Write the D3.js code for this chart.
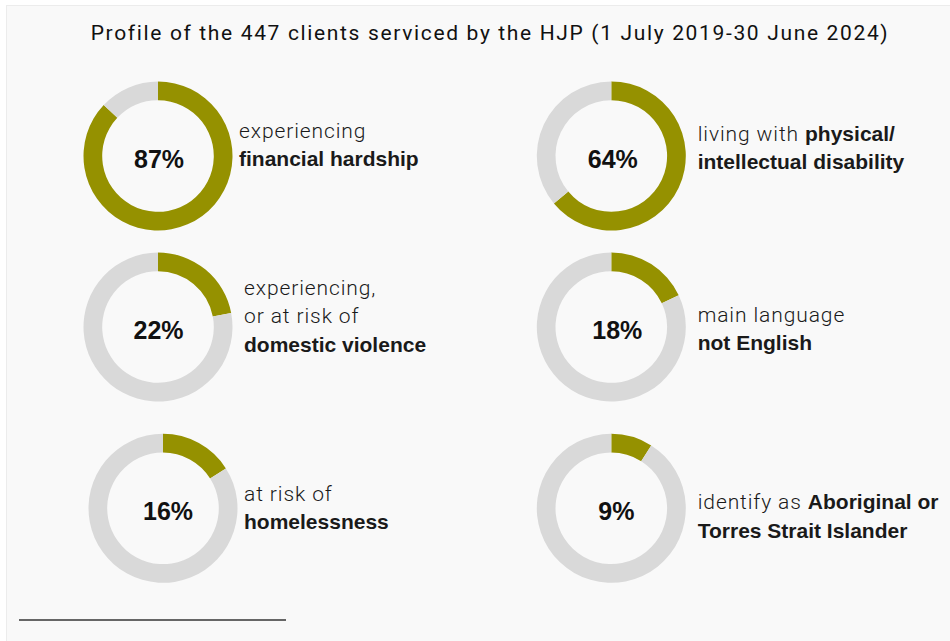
<!DOCTYPE html>
<html>
<head>
<meta charset="utf-8">
<script src="https://cdn.jsdelivr.net/npm/d3@7"></script>
<style>
  html, body { margin: 0; padding: 0; background: #ffffff; }
  svg { display: block; }
</style>
</head>
<body>
<svg id="chart" width="950" height="641"></svg>
<script>
// ---- data ----
const title = "Profile of the 447 clients serviced by the HJP (1 July 2019-30 June 2024)";
const categories = [
  "financial hardship",
  "domestic violence",
  "homelessness",
  "physical/intellectual disability",
  "main language not English",
  "Aboriginal or Torres Strait Islander"
];
const percents = [87, 22, 16, 64, 18, 9];
// each label: lines, each line a list of [text, isBold] runs
const labelLines = [
  [[["experiencing", false]], [["financial hardship", true]]],
  [[["experiencing,", false]], [["or at risk of", false]], [["domestic violence", true]]],
  [[["at risk of", false]], [["homelessness", true]]],
  [[["living with ", false], ["physical/", true]], [["intellectual disability", true]]],
  [[["main language", false]], [["not English", true]]],
  [[["identify as ", false], ["Aboriginal or", true]], [["Torres Strait Islander", true]]]
];

// ---- layout ----
const W = 950, H = 641;
const colX = [158, 611.3];
const rowY = [156, 327, 508.3];
// small per-donut adjustments: donut x nudge, value text dx, label x, first label baseline
const slots = [
  { nx: 0, tdx: 1,   lx: 81,   ly: -18 },
  { nx: 0, tdx: 0.5, lx: 86,   ly: -32 },
  { nx: 5, tdx: 5,   lx: 86,   ly: -7.6 },
  { nx: 0, tdx: 1.5, lx: 86.4, ly: -15.2 },
  { nx: 0, tdx: 6,   lx: 86.4, ly: -5.3 },
  { nx: 0, tdx: 5,   lx: 86.4, ly: 1 }
];
const lineH = 28.3;
const outerR = 74.5, innerR = 55.8;
const olive = "#959100", track = "#d9d9d9";

const svg = d3.select("#chart");

// panel
svg.append("rect")
  .attr("x", 6.5).attr("y", 5.5)
  .attr("width", W).attr("height", H)
  .attr("fill", "#f9f9f9")
  .attr("stroke", "#ececec");

// title
svg.append("text")
  .attr("x", 490).attr("y", 39.5)
  .attr("text-anchor", "middle")
  .style("font-family", "Roboto, 'Liberation Sans', sans-serif")
  .style("font-size", "21px")
  .style("letter-spacing", "1.65px")
  .style("font-weight", 400)
  .attr("fill", "#111")
  .text(title);

const pie = d3.pie().sort(null).value(d => d);
const arc = d3.arc().innerRadius(innerR).outerRadius(outerR);

const items = categories.map((c, i) => ({
  category: c,
  value: percents[i],
  lines: labelLines[i],
  col: i < 3 ? 0 : 1,
  row: i % 3,
  slot: slots[i]
}));

const g = svg.selectAll("g.donut")
  .data(items)
  .join("g")
  .attr("class", "donut")
  .attr("transform", d => `translate(${colX[d.col] + d.slot.nx},${rowY[d.row]})`);

g.selectAll("path")
  .data(d => pie([d.value, 100 - d.value]))
  .join("path")
  .attr("d", arc)
  .attr("fill", (d, i) => i === 0 ? olive : track);

g.append("text")
  .attr("x", d => d.slot.tdx)
  .attr("y", 12)
  .attr("text-anchor", "middle")
  .style("font-family", "'Liberation Sans', Arial, sans-serif")
  .style("font-size", "25px")
  .style("font-weight", 700)
  .attr("fill", "#111")
  .text(d => d.value + "%");

const label = g.append("text")
  .attr("fill", "#1a1a1a")
  .style("font-size", "21px");

label.each(function (d) {
  const t = d3.select(this);
  d.lines.forEach((runs, li) => {
    runs.forEach((r, ri) => {
      const ts = t.append("tspan")
        .style("font-family", r[1] ? "'Liberation Sans', Arial, sans-serif" : "Roboto, 'Liberation Sans', sans-serif")
        .style("font-weight", r[1] ? 700 : 300)
        .style("letter-spacing", r[1] ? "0px" : "0.9px")
        .style("white-space", "pre")
        .text(r[0]);
      if (ri === 0) {
        ts.attr("x", d.slot.lx - d.slot.nx).attr("y", d.slot.ly + li * lineH);
      }
    });
  });
});

// footnote rule
svg.append("line")
  .attr("x1", 19).attr("x2", 286)
  .attr("y1", 620).attr("y2", 620)
  .attr("stroke", "#666")
  .attr("stroke-width", 2);
</script>
</body>
</html>
